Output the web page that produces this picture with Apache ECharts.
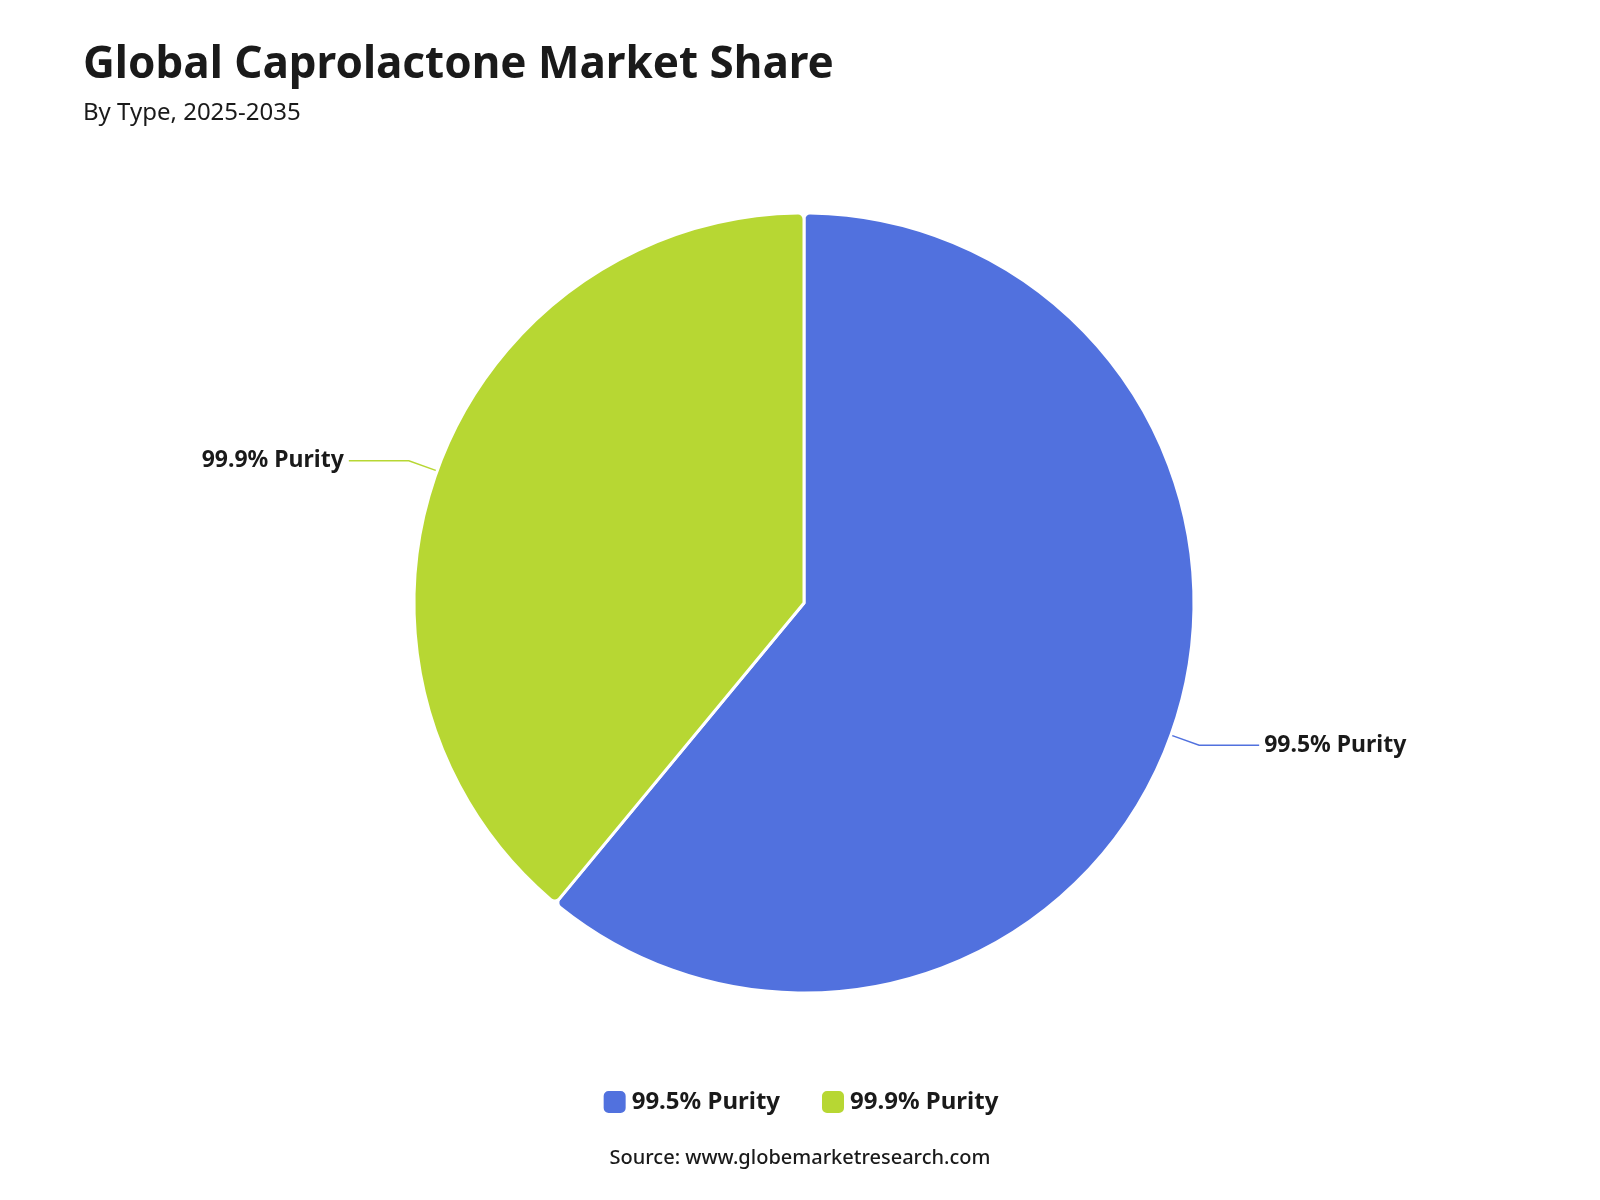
<!DOCTYPE html>
<html><head><meta charset="utf-8">
<script src="https://cdn.jsdelivr.net/npm/echarts@6/dist/echarts.min.js"></script>
<style>html,body{margin:0;padding:0;background:#fff}#c{width:1600px;height:1200px}</style>
</head><body><div id="c"></div>
<script>
const categories = ["99.5% Purity", "99.9% Purity"];
const values = [61, 39];
const colors = ["#5171DE", "#B7D733"];

const chart = echarts.init(document.getElementById('c'));
chart.setOption({
  backgroundColor: '#fff',
  textStyle: { fontFamily: 'Noto Sans' },
  title: {
    text: 'Global Caprolactone Market Share',
    subtext: 'By Type, 2025-2035',
    left: 78, top: 38,
    textStyle: { fontSize: 44, fontWeight: 'bold', color: '#1a1a1a', fontFamily: 'Noto Sans' },
    subtextStyle: { fontSize: 24, color: '#1a1a1a', fontFamily: 'Noto Sans' },
    itemGap: 14
  },
  legend: {
    bottom: 80, left: 'center',
    itemWidth: 24, itemHeight: 24, itemGap: 40,
    icon: 'roundRect',
    textStyle: { fontSize: 24, fontWeight: 'bold', color: '#1a1a1a' },
    data: categories
  },
  graphic: [{
    type: 'text', left: 'center', bottom: 32,
    style: { text: 'Source: www.globemarketresearch.com', fontSize: 20, fontWeight: 500, fill: '#1a1a1a', fontFamily: 'Noto Sans' }
  }],
  series: [{
    type: 'pie',
    center: [804, 603],
    radius: ['0%', 390],
    startAngle: 90,
    clockwise: true,
    itemStyle: { borderColor: '#fff', borderWidth: 3, borderRadius: 6 },
    label: { show: true, formatter: '{b}', fontSize: 23, fontWeight: 'bold', color: '#1a1a1a' },
    labelLine: { show: true, length: 30, length2: 60, lineStyle: { width: 1.5 } },
    data: categories.map((c, i) => ({ name: c, value: values[i], itemStyle: { color: colors[i] } }))
  }]
});
</script></body></html>
